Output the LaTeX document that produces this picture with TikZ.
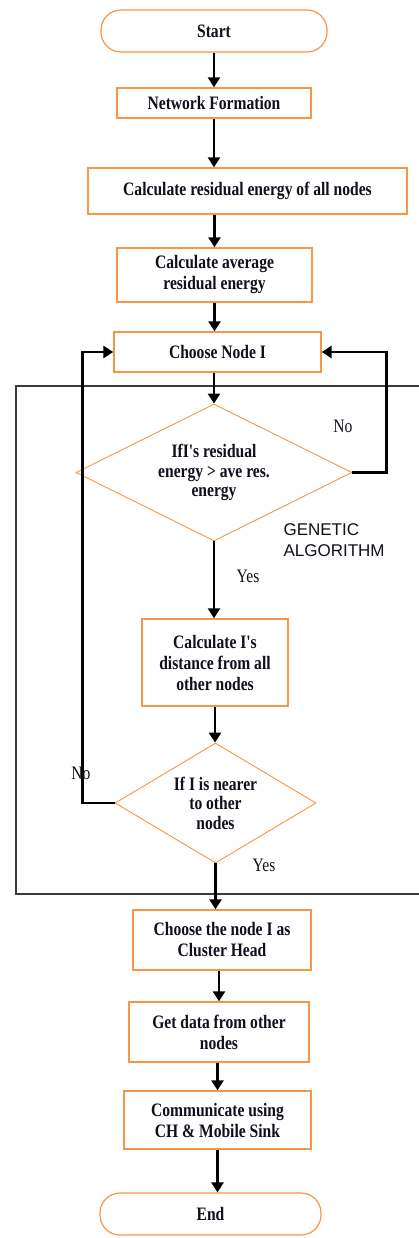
\documentclass[tikz,border=0pt]{standalone}
\usepackage{fontspec}
\setmainfont{Liberation Serif}
\newfontfamily\flowfont[FakeStretch=0.82]{Liberation Serif}
\newfontfamily\gafont{Liberation Sans}
\usetikzlibrary{arrows.meta, positioning, calc, shapes.geometric}
\definecolor{Edge}{HTML}{F79646}
\definecolor{Ink}{HTML}{10101C}
\definecolor{Frame}{HTML}{3A3A3A}

\begin{document}
\begin{tikzpicture}[
  x=1pt, y=-1pt,
  font=\flowfont\bfseries\fontsize{19}{21}\selectfont,
  process/.style={
    rectangle,
    draw=Edge,
    line width=1.4pt,
    fill=white,
    align=center,
    text=Ink,
    inner sep=2pt
  },
  terminal/.style={
    rectangle,
    rounded corners=20pt,
    draw=Edge,
    line width=1.2pt,
    fill=white,
    align=center,
    text=Ink,
    minimum width=226pt,
    minimum height=42pt
  },
  decision/.style={
    diamond,
    draw=Edge,
    line width=0.9pt,
    fill=white,
    align=center,
    text=Ink,
    inner sep=0pt,
    font=\flowfont\bfseries\fontsize{19}{19.5}\selectfont
  },
  flow/.style={
    -{Triangle[length=10pt,width=12pt]},
    line width=2.8pt,
    draw=black
  },
  tag/.style={
    text=Ink,
    font=\flowfont\fontsize{19}{21}\selectfont
  },
  gatag/.style={
    text=Ink,
    align=left,
    font=\gafont\fontsize{17}{20.5}\selectfont
  }
]

\useasboundingbox (0,0) rectangle (419,1238);

% genetic algorithm frame
\draw[Frame, line width=1.3pt] (16,386) rectangle (440,894);

\node[terminal] (start) at (214,31) {Start};
\node[process, minimum width=194pt, minimum height=30pt] (netf) at (214,103)
  {Network Formation};
\node[process, minimum width=319pt, minimum height=46pt] (resid) at (247.5,191)
  {Calculate residual energy of all nodes};
\node[process, minimum width=195pt, minimum height=54pt] (avg) at (214.5,275)
  {Calculate average\\residual energy};
\node[process, minimum width=207pt, minimum height=40pt] (choose) at (217.5,352)
  {Choose Node I};

\node[decision, aspect=2, minimum width=276pt, minimum height=137pt] (ifres) at (214,472.5)
  {IfI's residual\\energy > ave res.\\energy};
\node[process, minimum width=146pt, minimum height=87pt] (dist) at (215,662.5)
  {Calculate I's\\distance from all\\other nodes};
\node[decision, aspect=1.67, minimum width=201pt, minimum height=120pt] (ifnear) at (215.5,803)
  {If I is nearer\\to other\\nodes};

\node[process, minimum width=178pt, minimum height=60pt] (head) at (222,940)
  {Choose the node I as\\Cluster Head};
\node[process, minimum width=180pt, minimum height=60pt] (getdata) at (219,1032)
  {Get data from other\\nodes};
\node[process, minimum width=187pt, minimum height=58pt] (comm) at (217.5,1120)
  {Communicate using\\CH \& Mobile Sink};
\node[terminal, minimum width=221pt] (finish) at (210.5,1214) {End};

% main flow
\draw[flow] (start) -- (netf);
\draw[flow] (netf) -- (netf |- resid.north);
\draw[flow] (avg |- resid.south) -- (avg);
\draw[flow] (avg) -- (avg |- choose.north);
\draw[flow] (ifres |- choose.south) -- (ifres);
\draw[flow] (ifres) -- (ifres |- dist.north);
\draw[flow] (dist) -- (dist |- ifnear.north);
\draw[flow] (ifnear) -- (ifnear |- head.north);
\draw[flow] (getdata |- head.south) -- (getdata);
\draw[flow] (comm |- getdata.south) -- (comm);
\draw[flow] (comm) -- (comm |- finish.north);

% loops back
\draw[flow] (ifres.east) -- ++(34,0) |- (choose.east);
\draw[flow] (ifnear.west) -- ++(-32,0) |- (choose.west);

\node[tag] (no1) at (343,426) {No};
\node[tag] (no2) at (81,773) {No};
\node[tag] (yes1) at (248,576) {Yes};
\node[tag] (yes2) at (264,865) {Yes};
\node[gatag, anchor=west] (ga) at (280,540) {GENETIC\\ALGORITHM};

\end{tikzpicture}
\end{document}
